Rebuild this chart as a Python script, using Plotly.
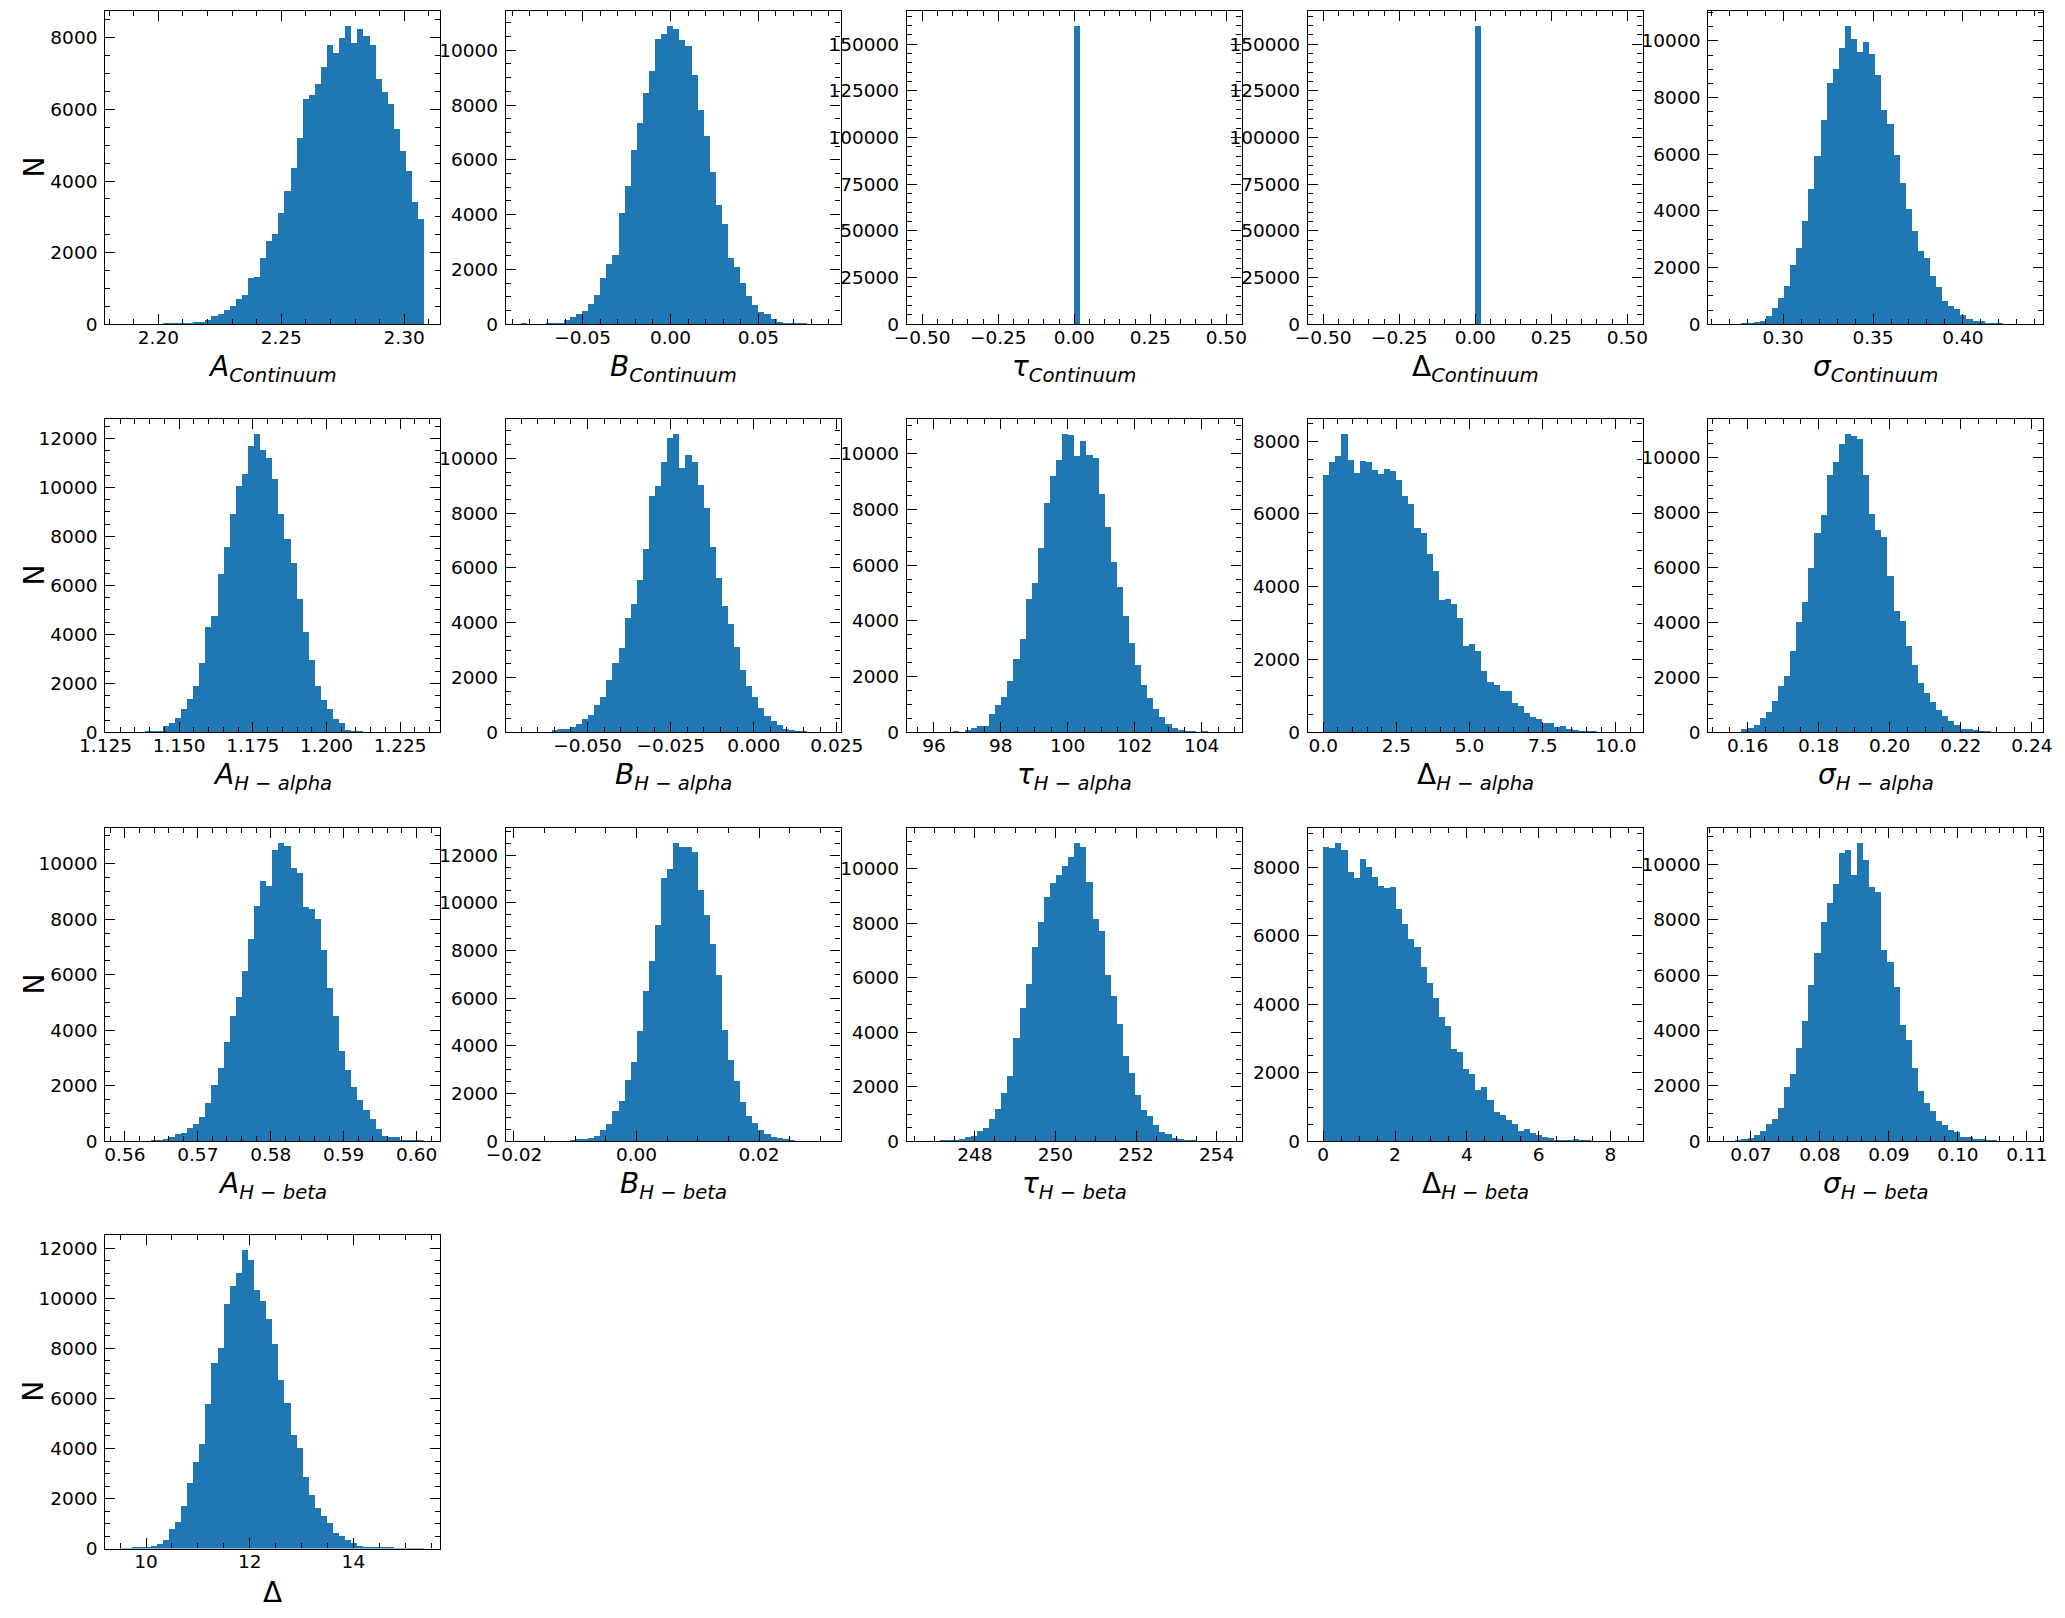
import plotly.graph_objects as go

# ---------------- data: histogram counts (50 bins each) and bin ranges ----------------
counts_A_cont = [1, 2, 3, 5, 8, 12, 15, 20, 30, 30, 30, 56, 84, 84, 130, 232, 307, 419, 530, 725,
                 837, 1311, 1330, 1860, 2343, 2539, 3125, 3729, 4380, 5199, 6296, 6408, 6724, 7198, 7812,
                 7589, 7998, 8342, 7868, 8259, 8072, 7812, 6854, 6501, 6157, 5469, 4845, 4297, 3422, 2948]
range_A_cont = (2.1846, 2.3083)

counts_B_cont = [36, 2, 5, 10, 73, 49, 73, 170, 267, 377, 510, 765, 1093, 1689, 2223, 2551, 4058, 5042,
                 6379, 7351, 8468, 9258, 10425, 10607, 10898, 10789, 10388, 10170, 9113, 7824, 6865, 5577,
                 4374, 3681, 2442, 2114, 1519, 1057, 729, 474, 401, 207, 109, 73, 61, 49, 49, 5, 2, 1]
range_B_cont = (-0.0850, 0.0881)

counts_tau_cont = [0, 0, 0, 0, 0, 0, 0, 0, 0, 0, 0, 0, 0, 0, 0, 0, 0, 0, 0, 0, 0, 0, 0, 0, 0,
                   160000, 0, 0, 0, 0, 0, 0, 0, 0, 0, 0, 0, 0, 0, 0, 0, 0, 0, 0, 0, 0, 0, 0, 0, 0]
range_tau_cont = (-0.5, 0.5)

counts_D_cont = [0, 0, 0, 0, 0, 0, 0, 0, 0, 0, 0, 0, 0, 0, 0, 0, 0, 0, 0, 0, 0, 0, 0, 0, 0,
                 160000, 0, 0, 0, 0, 0, 0, 0, 0, 0, 0, 0, 0, 0, 0, 0, 0, 0, 0, 0, 0, 0, 0, 0, 0]
range_D_cont = (-0.5, 0.5)

counts_s_cont = [2, 3, 8, 23, 23, 94, 141, 317, 599, 928, 1375, 2115, 2714, 3666, 4794, 5957, 7238,
                 8531, 9024, 9764, 10540, 10082, 9623, 9976, 9553, 8813, 7579, 7085, 5981, 5006, 4089,
                 3314, 2609, 2362, 1727, 1316, 846, 670, 541, 341, 212, 141, 141, 35, 35, 30, 5, 3, 2, 1]
range_s_cont = (0.2668, 0.4360)

counts_A_ha = [1, 0, 2, 10, 41, 54, 82, 258, 381, 612, 952, 1360, 1890, 2829, 4298, 4746, 6460, 7589,
               8949, 10064, 10581, 11723, 12199, 11560, 11220, 10377, 8949, 7888, 6936, 5440, 4094, 2951,
               1890, 1333, 952, 544, 381, 95, 54, 27, 10, 5, 3, 2, 1, 1, 0, 0, 0, 1]
range_A_ha = (1.1301, 1.2333)

counts_B_ha = [1, 0, 2, 5, 20, 97, 133, 145, 206, 303, 484, 629, 992, 1283, 1936, 2553, 3098, 4187,
               4695, 5578, 6691, 8652, 8990, 9862, 10745, 10902, 9644, 10116, 9862, 9027, 8216, 6776,
               5651, 4634, 3969, 3134, 2275, 1694, 1283, 895, 593, 411, 266, 133, 109, 73, 73, 10, 3, 1]
range_B_ha = (-0.06995, 0.02153)

counts_tau_ha = [1, 0, 1, 2, 3, 36, 10, 108, 179, 251, 251, 681, 1004, 1291, 1864, 2641, 3370, 4804,
                 5378, 6632, 8257, 9213, 9799, 10719, 10671, 9942, 10468, 9966, 9859, 8568, 7385, 6106,
                 5234, 4194, 3227, 2414, 1721, 1255, 837, 574, 323, 179, 108, 60, 24, 10, 36, 2, 1, 1]
range_tau_ha = (95.65, 104.74)

counts_D_ha = [7068, 7424, 7615, 8208, 7505, 7123, 7478, 7424, 7205, 7095, 7232, 7178, 6931, 6493, 6275,
               5618, 5499, 4907, 4441, 3648, 3675, 3539, 3156, 2389, 2444, 2253, 1705, 1377, 1322, 1131,
               1131, 803, 720, 529, 420, 365, 255, 255, 146, 173, 109, 82, 55, 30, 20, 12, 8, 5, 3, 1]
range_D_ha = (0.0, 10.39)

counts_s_ha = [1, 3, 10, 121, 158, 267, 545, 739, 1139, 1685, 2048, 2957, 4036, 4739, 5975, 7248, 7914,
               9393, 9853, 10508, 10872, 10811, 10690, 9393, 7975, 7357, 7127, 5684, 4412, 4072, 3139,
               2448, 1806, 1430, 1115, 812, 594, 412, 267, 121, 121, 85, 48, 48, 10, 5, 3, 2, 1, 1]
range_s_ha = (0.15323, 0.23881)

counts_A_hb = [1, 0, 1, 3, 10, 24, 48, 96, 180, 276, 312, 504, 647, 875, 1403, 2050, 2662, 3573, 4532,
               5192, 6151, 7302, 8501, 9400, 9220, 10515, 10755, 10659, 9868, 9676, 8465, 8393, 8021,
               6906, 5515, 4532, 3273, 2590, 1966, 1511, 1151, 803, 468, 216, 156, 156, 72, 48, 24, 48]
range_A_hb = (0.5594, 0.6011)

counts_B_hb = [1, 0, 0, 1, 2, 3, 8, 20, 56, 98, 98, 154, 237, 475, 726, 1270, 1717, 2569, 3322, 4621,
               6296, 7580, 9102, 11070, 11447, 12522, 12355, 12355, 12159, 10568, 9521, 8278, 6966, 4663,
               3406, 2527, 1647, 1061, 768, 475, 307, 181, 140, 98, 56, 10, 5, 3, 1, 1]
range_B_hb = (-0.01882, 0.03082)

counts_tau_hb = [1, 2, 10, 37, 37, 61, 85, 159, 208, 379, 513, 842, 1184, 1770, 2393, 3785, 4908, 5788,
                 7118, 8071, 8987, 9499, 9792, 10122, 10452, 10952, 10818, 9524, 8181, 7741, 6117, 5324,
                 4298, 3126, 2503, 1697, 1148, 928, 598, 342, 269, 147, 85, 49, 24, 10, 5, 2, 1, 1]
range_tau_hb = (246.695, 254.24)

counts_D_hb = [8611, 8592, 8728, 8533, 7891, 7716, 8271, 8037, 7745, 7482, 7424, 7453, 6811, 6373, 5935,
               5673, 5089, 4622, 4184, 3629, 3367, 2695, 2608, 2111, 1965, 1498, 1586, 1207, 856, 769,
               623, 506, 302, 360, 243, 185, 126, 97, 39, 39, 39, 68, 39, 29, 15, 8, 5, 3, 2, 1]
range_D_hb = (0.0, 8.47)

counts_s_hb = [1, 5, 36, 84, 120, 229, 373, 626, 806, 1203, 1961, 2430, 3368, 4343, 5678, 6833, 7952,
               8638, 9323, 10442, 10550, 9648, 10795, 10189, 9215, 9034, 6941, 6508, 5570, 4198, 3657,
               2647, 1817, 1383, 1095, 734, 589, 409, 337, 156, 156, 84, 84, 48, 48, 10, 5, 3, 1, 1]
range_s_hb = (0.06602, 0.11011)

counts_Delta = [1, 5, 40, 40, 80, 119, 199, 358, 796, 1074, 1711, 2625, 3461, 4177, 5768, 7399, 7996,
                9786, 10502, 11019, 11934, 11536, 10343, 9905, 9189, 8195, 6749, 5808, 4522, 4005, 2864,
                2148, 1618, 1313, 1034, 636, 517, 358, 239, 119, 80, 40, 40, 40, 40, 10, 5, 3, 1, 1]
range_Delta = (9.507, 15.374)

labels = [
    "<i>A</i><sub><i>Continuum</i></sub>",
    "<i>B</i><sub><i>Continuum</i></sub>",
    "<i>τ</i><sub><i>Continuum</i></sub>",
    "Δ<sub><i>Continuum</i></sub>",
    "<i>σ</i><sub><i>Continuum</i></sub>",
    "<i>A</i><sub><i>H</i> − <i>alpha</i></sub>",
    "<i>B</i><sub><i>H</i> − <i>alpha</i></sub>",
    "<i>τ</i><sub><i>H</i> − <i>alpha</i></sub>",
    "Δ<sub><i>H</i> − <i>alpha</i></sub>",
    "<i>σ</i><sub><i>H</i> − <i>alpha</i></sub>",
    "<i>A</i><sub><i>H</i> − <i>beta</i></sub>",
    "<i>B</i><sub><i>H</i> − <i>beta</i></sub>",
    "<i>τ</i><sub><i>H</i> − <i>beta</i></sub>",
    "Δ<sub><i>H</i> − <i>beta</i></sub>",
    "<i>σ</i><sub><i>H</i> − <i>beta</i></sub>",
    "Δ",
]
y_label = "N"

all_counts = [counts_A_cont, counts_B_cont, counts_tau_cont, counts_D_cont, counts_s_cont,
              counts_A_ha, counts_B_ha, counts_tau_ha, counts_D_ha, counts_s_ha,
              counts_A_hb, counts_B_hb, counts_tau_hb, counts_D_hb, counts_s_hb,
              counts_Delta]
all_ranges = [range_A_cont, range_B_cont, range_tau_cont, range_D_cont, range_s_cont,
              range_A_ha, range_B_ha, range_tau_ha, range_D_ha, range_s_ha,
              range_A_hb, range_B_hb, range_tau_hb, range_D_hb, range_s_hb,
              range_Delta]

# ---------------- styling / layout ----------------
# (x major dtick, x minor dtick, x format, y major dtick, y minor dtick)
tick_specs = [
    (0.05, 0.01, ".2f", 2000, 500), (0.05, 0.01, ".2f", 2000, 500),
    (0.25, 0.05, ".2f", 25000, 5000), (0.25, 0.05, ".2f", 25000, 5000),
    (0.05, 0.01, ".2f", 2000, 500),
    (0.025, 0.005, ".3f", 2000, 500), (0.025, 0.005, ".3f", 2000, 500),
    (2, 0.5, ".0f", 2000, 500), (2.5, 0.5, ".1f", 2000, 500), (0.02, 0.005, ".2f", 2000, 500),
    (0.01, 0.002, ".2f", 2000, 500), (0.02, 0.005, ".2f", 2000, 500),
    (2, 0.5, ".0f", 2000, 500), (2, 0.5, ".0f", 2000, 500), (0.01, 0.002, ".2f", 2000, 500),
    (2, 0.5, ".0f", 2000, 500),
]

W, H = 2065, 1618
col_left = [105.3, 506.0, 907.0, 1308.0, 1708.3]
row_top = [10.7, 418.7, 827.7, 1235.0]
PW, PH = 334.5, 313.6
BAR_COLOR = "#1f77b4"
FONT = "DejaVu Sans"

fig = go.Figure()
layout = {}
annotations = []

for i, (counts, (lo, hi)) in enumerate(zip(all_counts, all_ranges)):
    n = i + 1
    r, c = divmod(i, 5)
    nb = len(counts)
    bw = (hi - lo) / nb
    centers = [lo + (k + 0.5) * bw for k in range(nb)]
    xs = "x" if n == 1 else f"x{n}"
    ys = "y" if n == 1 else f"y{n}"
    fig.add_trace(go.Bar(x=centers, y=counts, width=bw, xaxis=xs, yaxis=ys,
                         marker=dict(color=BAR_COLOR, line=dict(width=0)),
                         showlegend=False, hoverinfo="x+y"))
    xd, xm, xf, yd, ym = tick_specs[i]
    left = col_left[c]
    top = row_top[r]
    span = hi - lo
    common = dict(showline=True, linecolor="black", linewidth=1.3, mirror="allticks",
                  ticks="inside", ticklen=10, tickwidth=1.3, tickcolor="black",
                  showgrid=False, zeroline=False, tick0=0, automargin=False,
                  tickfont=dict(family=FONT, size=18.5, color="black"))
    layout["xaxis" if n == 1 else f"xaxis{n}"] = dict(
        common, domain=[left / W, (left + PW) / W], anchor=ys,
        range=[lo - 0.05 * span, hi + 0.05 * span], dtick=xd, tickformat=xf,
        ticklabelstandoff=-4,
        minor=dict(ticks="inside", ticklen=5, tickwidth=1.1, tickcolor="black",
                   dtick=xm, tick0=0, showgrid=False))
    layout["yaxis" if n == 1 else f"yaxis{n}"] = dict(
        common, domain=[1 - (top + PH) / H, 1 - top / H], anchor=xs,
        range=[0, 1.05 * max(counts)], dtick=yd, tickformat="d",
        ticklabelstandoff=3,
        minor=dict(ticks="inside", ticklen=5, tickwidth=1.1, tickcolor="black",
                   dtick=ym, tick0=0, showgrid=False))
    annotations.append(dict(text=labels[i], xref="paper", yref="paper",
                            x=(left + PW / 2) / W, y=1 - (top + PH + 44) / H,
                            xanchor="center", yanchor="middle", showarrow=False,
                            font=dict(family=FONT, size=28, color="black")))
    if c == 0:
        annotations.append(dict(text=y_label, xref="paper", yref="paper",
                                x=34 / W, y=1 - (top + PH / 2) / H, textangle=-90,
                                xanchor="center", yanchor="middle", showarrow=False,
                                font=dict(family=FONT, size=28, color="black")))

fig.update_layout(**layout)
fig.update_layout(template="none", width=W, height=H, margin=dict(l=0, r=0, t=0, b=0, pad=0),
                  paper_bgcolor="white", plot_bgcolor="white",
                  annotations=annotations, bargap=0, showlegend=False)

fig.write_html("out.html")
